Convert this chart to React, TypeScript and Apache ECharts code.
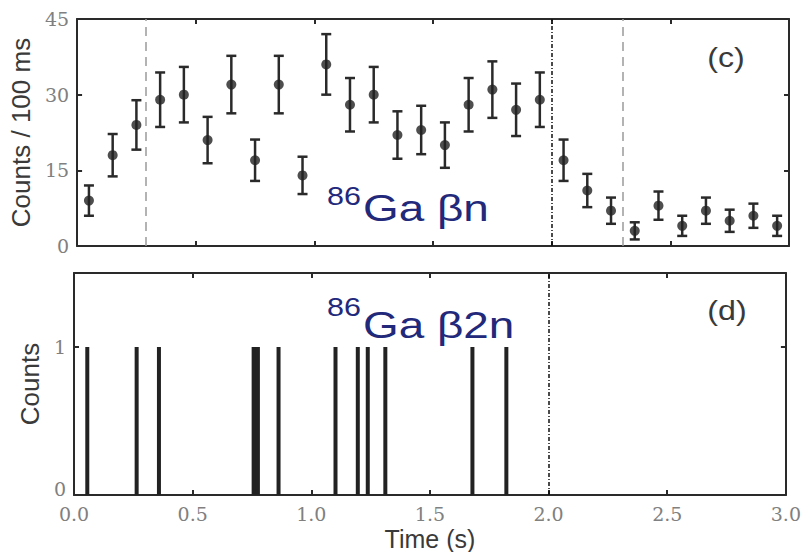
import React, { useEffect, useRef } from "react";
import * as echarts from "echarts";

// Top panel: beta-delayed one-neutron counts per 100 ms bin
const binCenters = [0.05, 0.15, 0.25, 0.35, 0.45, 0.55, 0.65, 0.75, 0.85, 0.95, 1.05, 1.15, 1.25, 1.35, 1.45, 1.55, 1.65, 1.75, 1.85, 1.95, 2.05, 2.15, 2.25, 2.35, 2.45, 2.55, 2.65, 2.75, 2.85, 2.95];
const counts = [9, 18, 24, 29, 30, 21, 32, 17, 32, 14, 36, 28, 30, 22, 23, 20, 28, 31, 27, 29, 17, 11, 7, 3, 8, 4, 7, 5, 6, 4];
const errors = [3.0, 4.2, 4.9, 5.4, 5.5, 4.6, 5.7, 4.1, 5.7, 3.7, 6.0, 5.3, 5.5, 4.7, 4.8, 4.5, 5.3, 5.6, 5.2, 5.4, 4.1, 3.3, 2.6, 1.7, 2.8, 2.0, 2.6, 2.2, 2.4, 2.0];

// Bottom panel: beta-delayed two-neutron event times (s)
const twoNEvents = [0.056, 0.264, 0.358, 0.757, 0.766, 0.775, 0.862, 1.102, 1.196, 1.238, 1.312, 1.679, 1.822];
const twoNCounts = [1, 1, 1, 1, 1, 1, 1, 1, 1, 1, 1, 1, 1];

// Vertical markers
const dashedMarkers = [0.29, 2.3];
const dottedMarker = 2.0;

const xTicks = { min: 0, max: 3, interval: 0.5 };
const topY = { min: 0, max: 45, interval: 15 };
const botY = { min: 0, max: 1.5, interval: 1 };

export default function App() {
  const ref = useRef<HTMLDivElement>(null);
  useEffect(() => {
    if (!ref.current) return;
    const chart = echarts.init(ref.current, null, { renderer: "svg" });
    const frame = "#2a2a2a";
    const tickLabel = { fontFamily: "DejaVu Serif", fontSize: 19, color: "#808080" };
    const titleFont = { fontFamily: "Liberation Sans", fontSize: 26, color: "#3a3a3a" };
    const baseX = (grid: number, pos: "top" | "bottom", labels: boolean): any => ({
      type: "value",
      gridIndex: grid,
      position: pos,
      ...xTicks,
      axisLine: { show: true, onZero: false, lineStyle: { color: frame, width: 2 } },
      axisTick: { show: true, inside: true, length: 5, lineStyle: { color: frame, width: 2 } },
      axisLabel: labels
        ? { show: true, margin: 9, ...tickLabel, formatter: (v: number) => v.toFixed(1) }
        : { show: false },
      splitLine: { show: false },
    });
    const baseY = (grid: number, pos: "left" | "right", labels: boolean, ext: any, fmt?: any): any => ({
      type: "value",
      gridIndex: grid,
      position: pos,
      ...ext,
      axisLine: { show: true, onZero: false, lineStyle: { color: frame, width: 2 } },
      axisTick: { show: true, inside: true, length: 5, lineStyle: { color: frame, width: 2 } },
      axisLabel: labels
        ? {
            show: true,
            margin: 8,
            ...tickLabel,
            showMaxLabel: ext.max === 45,
            ...(fmt ? { formatter: fmt, rich: { z: { ...tickLabel, padding: [0, 0, 12, 0] } } } : {}),
          }
        : { show: false },
      splitLine: { show: false },
    });

    const xAxis = [
      baseX(0, "bottom", false),
      baseX(0, "top", false),
      { ...baseX(1, "bottom", true), name: "Time (s)", nameLocation: "middle", nameGap: 31, nameTextStyle: { ...titleFont, fontSize: 25 } },
      baseX(1, "top", false),
    ];
    const yAxis = [
      { ...baseY(0, "left", true, topY), name: "Counts / 100 ms", nameLocation: "middle", nameGap: 32, nameTextStyle: titleFont },
      baseY(0, "right", false, topY),
      {
        ...baseY(1, "left", true, botY, (v: number) => (v === 0 ? "{z|0}" : String(v))),
        name: "Counts",
        nameLocation: "middle",
        nameGap: 21,
        nameTextStyle: titleFont,
      },
      baseY(1, "right", false, botY),
    ];

    const errData = binCenters.map((x, i) => [x, counts[i], errors[i]]);
    const ptData = binCenters.map((x, i) => [x, counts[i]]);
    const barData = twoNEvents.map((x, i) => [x, twoNCounts[i]]);

    const dotted = { color: "#111", width: 1.5, type: [4, 2, 1, 2] };
    const dashed = { color: "#9a9a9a", width: 1.5, type: [9, 6] };

    const option: any = {
      animation: false,
      grid: [
        { left: 74, top: 19, width: 715, height: 227 },
        { left: 74, top: 273, width: 715, height: 224 },
      ],
      xAxis,
      yAxis,
      series: [
        {
          type: "custom",
          xAxisIndex: 0,
          yAxisIndex: 0,
          data: errData,
          encode: { x: 0, y: 1 },
          renderItem: (params: any, api: any) => {
            const x = api.value(0);
            const y = api.value(1);
            const e = api.value(2);
            const t = api.coord([x, y + e]);
            const b = api.coord([x, y - e]);
            const hw = 5;
            const st = { stroke: "#2a2a2a", lineWidth: 2.5 };
            return {
              type: "group",
              children: [
                { type: "line", shape: { x1: t[0], y1: t[1], x2: b[0], y2: b[1] }, style: st },
                { type: "line", shape: { x1: t[0] - hw, y1: t[1], x2: t[0] + hw, y2: t[1] }, style: st },
                { type: "line", shape: { x1: b[0] - hw, y1: b[1], x2: b[0] + hw, y2: b[1] }, style: st },
              ],
            };
          },
          z: 3,
        },
        {
          type: "scatter",
          xAxisIndex: 0,
          yAxisIndex: 0,
          data: ptData,
          symbol: "circle",
          symbolSize: 10,
          itemStyle: { color: "#222" },
          z: 4,
          markLine: {
            silent: true,
            symbol: "none",
            label: { show: false },
            data: [
              ...dashedMarkers.map((v) => ({ xAxis: v, lineStyle: dashed })),
              { xAxis: dottedMarker, lineStyle: dotted },
            ],
          },
        },
        {
          type: "bar",
          xAxisIndex: 2,
          yAxisIndex: 2,
          data: barData,
          barWidth: 4,
          itemStyle: { color: "#222" },
          markLine: {
            silent: true,
            symbol: "none",
            label: { show: false },
            data: [{ xAxis: dottedMarker, lineStyle: dotted }],
          },
        },
      ],
      graphic: [
        { type: "text", x: 327, y: 196, scaleX: 1.22, style: { text: "86", fontFamily: "Liberation Sans", fontSize: 25, fill: "#22287a", align: "left", verticalAlign: "middle" } },
        { type: "text", x: 363, y: 208, scaleX: 1.24, style: { text: "Ga βn", fontFamily: "Liberation Sans", fontSize: 37, fill: "#22287a", align: "left", verticalAlign: "middle" } },
        { type: "text", x: 327, y: 307, scaleX: 1.22, style: { text: "86", fontFamily: "Liberation Sans", fontSize: 25, fill: "#22287a", align: "left", verticalAlign: "middle" } },
        { type: "text", x: 363, y: 325, scaleX: 1.24, style: { text: "Ga β2n", fontFamily: "Liberation Sans", fontSize: 37, fill: "#22287a", align: "left", verticalAlign: "middle" } },
        { type: "text", x: 726, y: 57, scaleX: 1.15, style: { text: "(c)", fontFamily: "Liberation Sans", fontSize: 28, fill: "#3a3a3a", align: "center", verticalAlign: "middle" } },
        { type: "text", x: 727, y: 310, scaleX: 1.15, style: { text: "(d)", fontFamily: "Liberation Sans", fontSize: 28, fill: "#3a3a3a", align: "center", verticalAlign: "middle" } },
      ],
    };
    chart.setOption(option);
    return () => chart.dispose();
  }, []);
  return <div ref={ref} style={{ width: 804, height: 552, position: "absolute", left: 0, top: 0 }} />;
}
